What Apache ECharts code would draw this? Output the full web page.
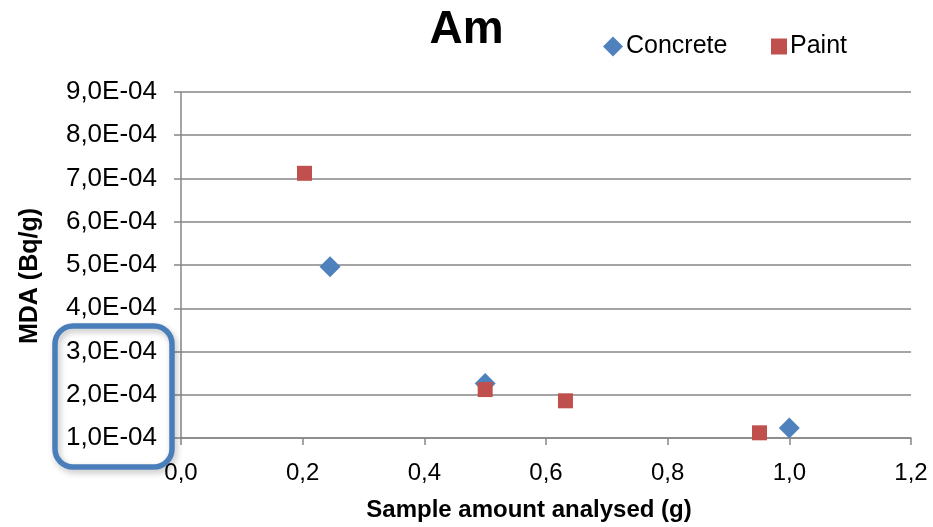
<!DOCTYPE html>
<html>
<head>
<meta charset="utf-8">
<script src="https://cdn.jsdelivr.net/npm/echarts@6/dist/echarts.min.js"></script>
<style>
  html, body { margin: 0; padding: 0; background: #fff; }
  #main { width: 933px; height: 527px; }
</style>
</head>
<body>
<div id="main"></div>
<script>
  // data
  var concreteX = [0.245, 0.5, 1.0];
  var concreteY = [4.96e-4, 2.26e-4, 1.23e-4];
  var paintX = [0.203, 0.5, 0.632, 0.951];
  var paintY = [7.12e-4, 2.12e-4, 1.86e-4, 1.12e-4];
  var seriesNames = ['Concrete', 'Paint'];

  function pairs(xs, ys) {
    return xs.map(function (x, i) { return [x, ys[i]]; });
  }

  var font = '"Liberation Sans", Arial, sans-serif';
  var legendText = { fontFamily: font, fontSize: 25, color: '#000', padding: [0, 0, 0, -2] };
  var chart = echarts.init(document.getElementById('main'));
  chart.setOption({
    animation: false,
    title: {
      text: 'Am',
      left: 'center',
      top: 2,
      padding: [5, 10, 5, 4],
      textStyle: { fontFamily: font, fontSize: 46, fontWeight: 'bold', color: '#000' }
    },
    // two legends so the diamond and the square can have their own sizes
    legend: [
      {
        left: 598, top: 29,
        itemWidth: 20, itemHeight: 20,
        textStyle: legendText,
        data: [{ name: seriesNames[0], icon: 'diamond' }]
      },
      {
        left: 766, top: 29,
        itemWidth: 16, itemHeight: 16,
        textStyle: legendText,
        data: [{ name: seriesNames[1], icon: 'rect' }]
      }
    ],
    grid: { left: 181, right: 22, top: 92, bottom: 87 },
    xAxis: {
      type: 'value',
      min: 0, max: 1.2, interval: 0.2,
      name: 'Sample amount analysed (g)',
      nameLocation: 'middle',
      nameGap: 60,
      nameTextStyle: { fontFamily: font, fontSize: 24, fontWeight: 'bold', color: '#000', padding: [0, 34, 0, 0] },
      axisLine: { show: true, lineStyle: { color: '#868686', width: 1.5 } },
      axisTick: { show: true, length: 7, lineStyle: { color: '#868686', width: 1.5 } },
      splitLine: { show: false },
      axisLabel: {
        margin: 23,
        fontFamily: font, fontSize: 24, color: '#000',
        formatter: function (v) { return v.toFixed(1).replace('.', ','); }
      }
    },
    yAxis: {
      type: 'value',
      min: 1e-4, max: 9e-4, interval: 1e-4,
      name: 'MDA (Bq/g)',
      nameLocation: 'middle',
      nameGap: 138,
      nameTextStyle: { fontFamily: font, fontSize: 25, fontWeight: 'bold', color: '#000', padding: [0, 22, 0, 0] },
      axisLine: { show: true, lineStyle: { color: '#868686', width: 1.5 } },
      axisTick: { show: true, length: 7, lineStyle: { color: '#868686', width: 1.5 } },
      splitLine: { show: true, lineStyle: { color: '#868686', width: 1.5 } },
      axisLabel: {
        margin: 24,
        fontFamily: font, fontSize: 26, color: '#000',
        formatter: function (v) {
          return (Math.round(v * 1e5) / 10).toFixed(1).replace('.', ',') + 'E-04';
        }
      }
    },
    series: [
      {
        name: seriesNames[0],
        type: 'scatter',
        symbol: 'diamond',
        symbolSize: 21,
        itemStyle: { color: '#4F81BD', opacity: 1 },
        data: pairs(concreteX, concreteY)
      },
      {
        name: seriesNames[1],
        type: 'scatter',
        symbol: 'rect',
        symbolSize: 15,
        itemStyle: { color: '#C0504D', opacity: 1 },
        data: pairs(paintX, paintY)
      }
    ],
    graphic: [
      {
        type: 'rect',
        shape: { x: 55, y: 326, width: 117, height: 141, r: 18 },
        style: {
          fill: 'transparent',
          stroke: '#4A7EBB',
          lineWidth: 5.5,
          shadowBlur: 6,
          shadowOffsetX: 2,
          shadowOffsetY: 3,
          shadowColor: 'rgba(0,0,0,0.25)'
        },
        z: 100
      }
    ]
  });
</script>
</body>
</html>
